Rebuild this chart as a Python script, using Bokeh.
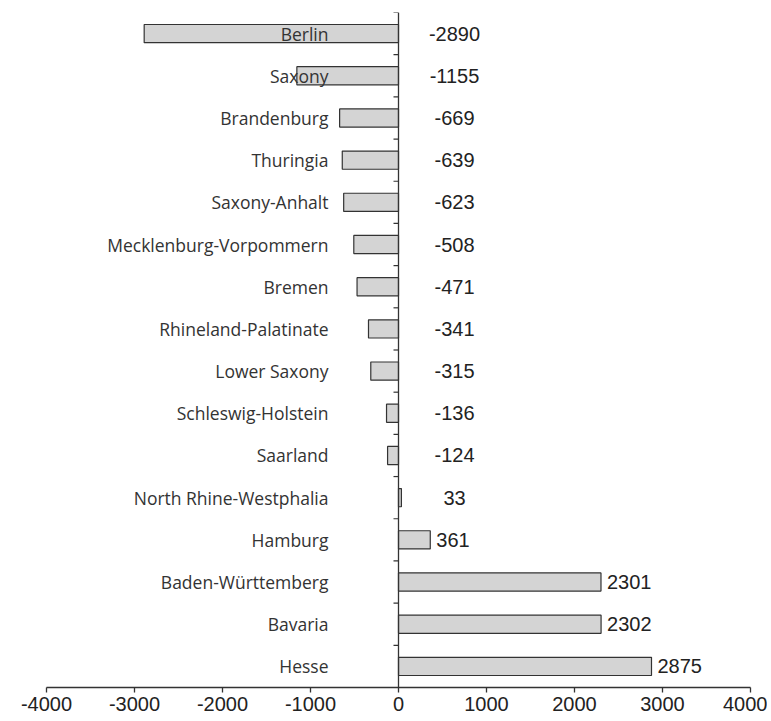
import math
from bokeh.plotting import figure
from bokeh.models import Range1d, ColumnDataSource, FixedTicker
from bokeh.embed import file_html
from bokeh.resources import INLINE
from bokeh.core.properties import value

states = ["Berlin", "Saxony", "Brandenburg", "Thuringia", "Saxony-Anhalt",
          "Mecklenburg-Vorpommern", "Bremen", "Rhineland-Palatinate", "Lower Saxony",
          "Schleswig-Holstein", "Saarland", "North Rhine-Westphalia", "Hamburg",
          "Baden-Württemberg", "Bavaria", "Hesse"]
values = [-2890, -1155, -669, -639, -623, -508, -471, -341, -315, -136, -124,
          33, 361, 2301, 2302, 2875]
x_ticks = [-4000, -3000, -2000, -1000, 0, 1000, 2000, 3000, 4000]

n = len(states)
ys = [n - 1 - i + 0.5 for i in range(n)]
src = ColumnDataSource(dict(y=ys, v=values, s=states))

big = [i for i, v in enumerate(values) if v > 100]
small = [i for i, v in enumerate(values) if v <= 100]
src_big = ColumnDataSource(dict(x=[values[i] for i in big], y=[ys[i] for i in big],
                                t=[str(values[i]) for i in big]))
src_small = ColumnDataSource(dict(x=[0] * len(small), y=[ys[i] for i in small],
                                  t=[str(values[i]) for i in small]))

p = figure(width=767, height=720, x_range=Range1d(-4000, 4000), y_range=Range1d(0, n),
           y_axis_location=None, output_backend="svg", toolbar_location=None,
           min_border_left=46, min_border_right=17, min_border_top=12, min_border_bottom=33)
p.grid.visible = False
p.outline_line_color = None
p.background_fill_color = "white"

p.hbar(y="y", left=0, right="v", height=0.43, fill_color="#d4d4d4",
       line_color="#333333", line_width=1.2, source=src)

# vertical axis line at zero with ticks at category boundaries
p.segment(x0=[0], y0=[0], x1=[0], y1=[n], line_color="#333333", line_width=1.3)
p.ray(x=[0] * (n + 1), y=list(range(n + 1)), length=5, length_units="screen",
      angle=math.pi, line_color="#333333", line_width=1.2)

# category labels
p.text(x=0, y="y", text="s", x_offset=-70, text_align="right", text_baseline="middle",
       text_font=value("Open Sans"), text_font_size="17.5px", text_color="#333333", source=src)

# value labels
p.text(x="x", y="y", text="t", x_offset=6, text_align="left", text_baseline="middle",
       text_font=value("Liberation Sans"), text_font_size="20px", text_color="#222222",
       source=src_big)
p.text(x="x", y="y", text="t", x_offset=56, text_align="center", text_baseline="middle",
       text_font=value("Liberation Sans"), text_font_size="20px", text_color="#222222",
       source=src_small)

ax = p.xaxis[0]
ax.ticker = FixedTicker(ticks=x_ticks)
ax.major_label_overrides = {t: str(t) for t in x_ticks}
ax.major_tick_out = 5
ax.major_tick_in = 0
ax.minor_tick_line_color = None
ax.axis_line_color = "#333333"
ax.axis_line_width = 1.3
ax.major_tick_line_color = "#333333"
ax.major_tick_line_width = 1.3
ax.major_label_standoff = 4
ax.major_label_text_font = "Liberation Sans"
ax.major_label_text_font_size = "20px"
ax.major_label_text_color = "#222222"

open("out.html", "w").write(file_html(p, INLINE))
